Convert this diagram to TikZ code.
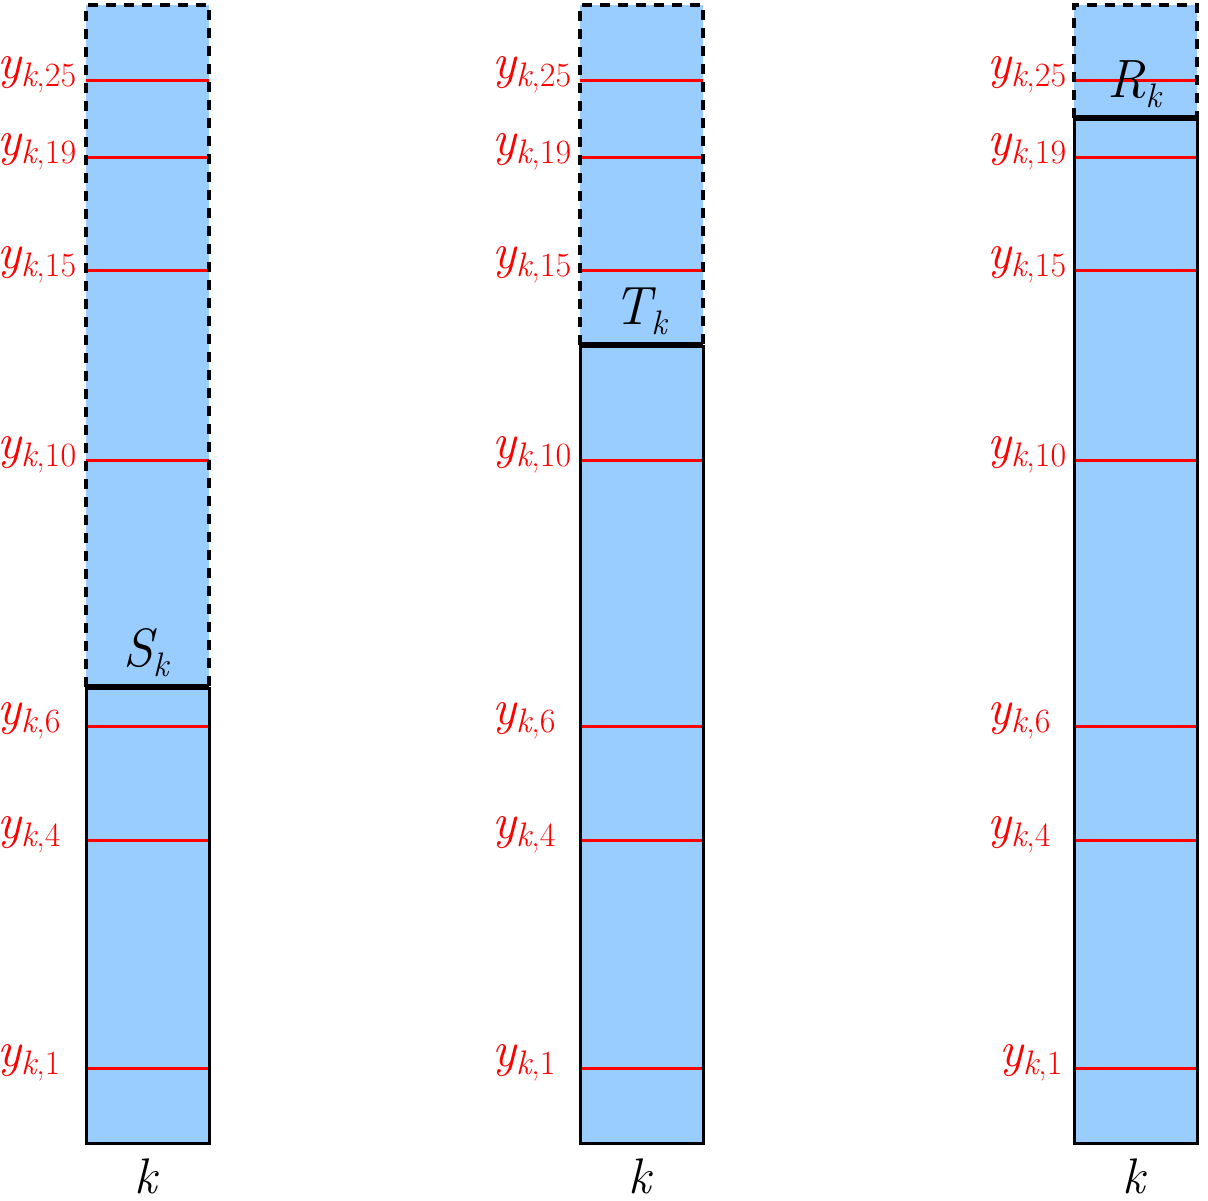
\documentclass[tikz,border=0pt]{standalone}
\usepackage{xcolor}
\usetikzlibrary{positioning}

\definecolor{barblue}{RGB}{153,204,255}

% y_{k,i} level label
\newcommand{\ylevel}[1]{{\fontsize{25}{25}\selectfont\itshape y}\raisebox{-4pt}{\fontsize{17}{17}\selectfont\itshape k\upshape,#1}}
% cut label with subscript k
\newcommand{\cutname}[1]{{\fontsize{27}{27}\selectfont\itshape #1}\raisebox{-5pt}{\fontsize{17}{17}\selectfont\itshape k}}

\begin{document}
\begin{tikzpicture}[x=0.5pt, y=-0.5pt,
  solidedge/.style={draw=black, line width=1.5pt},
  dashedge/.style={draw=black, line width=1.8pt, dash pattern=on 5pt off 4pt},
  level/.style={draw=red, line width=1.5pt},
  cut/.style={draw=black, line width=3pt},
  ylabel/.style={anchor=base west, text=red, inner sep=0pt},
  cutlabel/.style={anchor=base, inner sep=0pt},
  klabel/.style={anchor=base, inner sep=0pt, font=\fontsize{25}{25}\selectfont\itshape}]

\useasboundingbox (0,0) rectangle (1208,1200);

\foreach \x/\cy/\nm/\lx/\lxa in {86/687/S/-3/-3, 580/345/T/492/492, 1074/118/R/987/999} {
  % column
  \fill[barblue] (\x,5) rectangle (\x+123,1143);
  \foreach \ly/\i in {80/25, 157/19, 270/15, 460/10, 726/6, 840/4} {
    \draw[level] (\x,\ly) -- (\x+123,\ly);
    \node[ylabel] (y-\nm-\i) at (\lx,\ly-2) {\ylevel{\i}};
  }
  \draw[level] (\x,1068) -- (\x+123,1068);
  \node[ylabel] (y-\nm-1) at (\lxa,1066) {\ylevel{1}};
  \draw[dashedge] (\x,\cy) -- (\x,5) -- (\x+123,5) -- (\x+123,\cy);
  \draw[solidedge] (\x,\cy) -- (\x,1143) -- (\x+123,1143) -- (\x+123,\cy);
  \draw[cut] (\x,\cy) -- (\x+123,\cy);
  \node[cutlabel] (cut-\nm) at (\x+60,\cy-21) {\cutname{\nm}};
  \node[klabel] (k-\nm) at (\x+60,1193) {k};
}
\end{tikzpicture}
\end{document}
